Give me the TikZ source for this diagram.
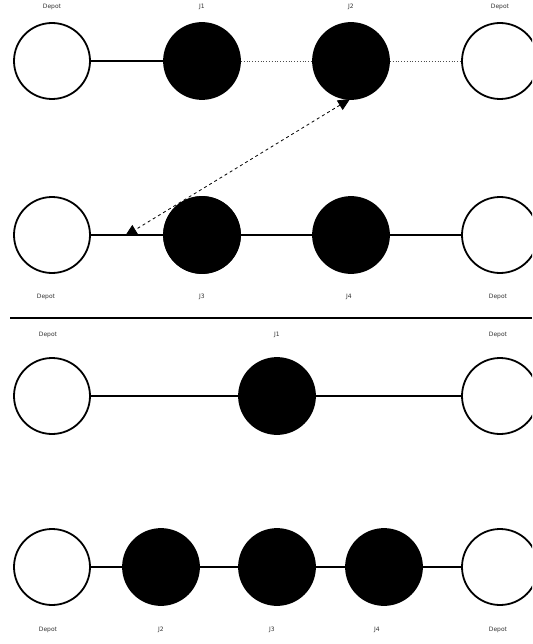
\documentclass[tikz,border=0pt]{standalone}
\usepackage{fontspec}
\setmainfont{DejaVu Sans}
\usetikzlibrary{arrows.meta}
\begin{document}
\begin{tikzpicture}[x=1pt,y=-1pt,
  depot/.style={circle,draw=black,line width=1.8pt,fill=white,minimum size=76pt,inner sep=0pt},
  job/.style={circle,draw=black,line width=1.8pt,fill=black,minimum size=76pt,inner sep=0pt},
  lbl/.style={font=\fontsize{6}{7}\selectfont,text=black!80},
  link/.style={line width=1.1pt},
  dotlink/.style={line width=0.8pt,dotted,black!70},
  move/.style={line width=0.8pt,dashed,{Triangle[length=12pt,width=11pt]}-{Triangle[length=12pt,width=11pt]}}]
\useasboundingbox (0,0) rectangle (532,644);
\clip (0,0) rectangle (532,644);
% row 1
\node[depot] (a1) at (52,61) {};
\node[job] (a2) at (202,61) {};
\node[job] (a3) at (351,61) {};
\node[depot] (a4) at (500,61) {};
\draw[link] (a1) -- (a2);
\draw[dotlink] (a2) -- (a3);
\draw[dotlink] (a3) -- (a4);
\node[lbl] (la1) at (52,7) {Depot};
\node[lbl] (la2) at (202,7) {J1};
\node[lbl] (la3) at (351,7) {J2};
\node[lbl] (la4) at (500,7) {Depot};
% row 2
\node[depot] (b1) at (52,235) {};
\node[job] (b2) at (202,235) {};
\node[job] (b3) at (351,235) {};
\node[depot] (b4) at (500,235) {};
\draw[link] (b1) -- (b2);
\draw[link] (b2) -- (b3);
\draw[link] (b3) -- (b4);
\node[lbl] (lb1) at (46,297) {Depot};
\node[lbl] (lb2) at (202,297) {J3};
\node[lbl] (lb3) at (349,297) {J4};
\node[lbl] (lb4) at (498,297) {Depot};
\coordinate (mvA) at (350,99);
\coordinate (mvB) at (125,236);
\draw[move] (mvA) -- (mvB);
\node[job] at (202,235) {};
% separator
\coordinate (s1) at (10,318);
\coordinate (s2) at (532,318);
\draw[line width=1.1pt] (s1) -- (s2);
% row 3
\node[depot] (c1) at (52,396) {};
\node[job] (c2) at (277,396) {};
\node[depot] (c3) at (500,396) {};
\draw[link] (c1) -- (c2);
\draw[link] (c2) -- (c3);
\node[lbl] (lc1) at (48,335) {Depot};
\node[lbl] (lc2) at (277,335) {J1};
\node[lbl] (lc3) at (498,335) {Depot};
% row 4
\node[depot] (d1) at (52,567) {};
\node[job] (d2) at (161,567) {};
\node[job] (d3) at (277,567) {};
\node[job] (d4) at (384,567) {};
\node[depot] (d5) at (500,567) {};
\draw[link] (d1) -- (d2);
\draw[link] (d2) -- (d3);
\draw[link] (d3) -- (d4);
\draw[link] (d4) -- (d5);
\node[lbl] (ld1) at (48,630) {Depot};
\node[lbl] (ld2) at (161,630) {J2};
\node[lbl] (ld3) at (272,630) {J3};
\node[lbl] (ld4) at (377,630) {J4};
\node[lbl] (ld5) at (498,630) {Depot};
\end{tikzpicture}
\end{document}
